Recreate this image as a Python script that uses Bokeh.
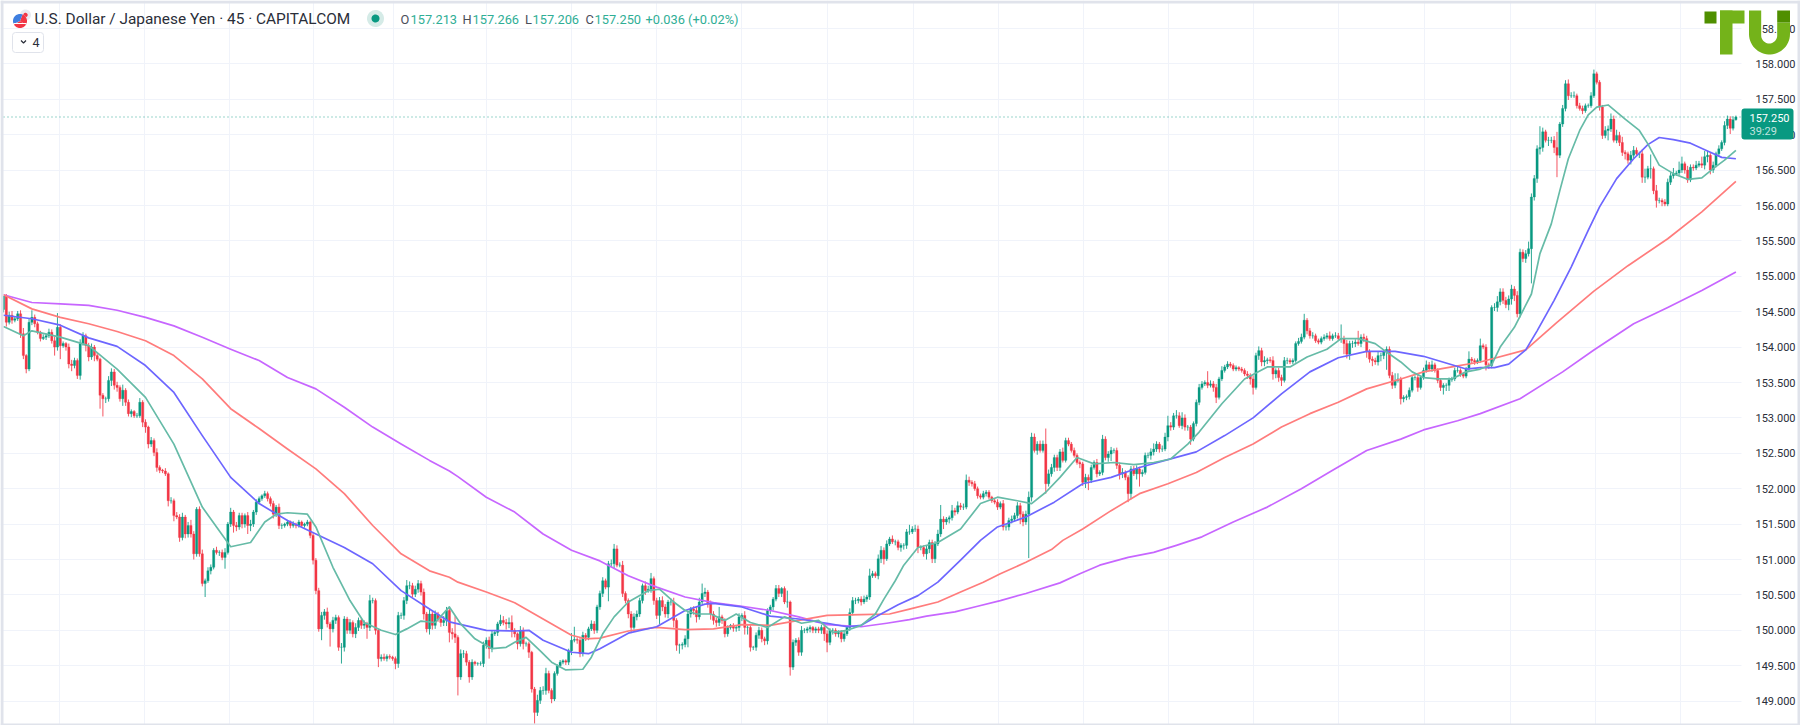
from bokeh.plotting import figure
from bokeh.models import (ColumnDataSource, FixedTicker, NumeralTickFormatter, Label,
                          BoxAnnotation, PolyAnnotation)
from bokeh.embed import file_html
from bokeh.resources import INLINE
import numpy as np

first_open = 154.53
closes = [
154.72,154.35,154.45,154.38,154.40,154.47,154.19,153.88,153.69,154.35,154.42,154.33,154.21,154.12,154.14,154.16,154.21,154.09,154.00,154.28,
154.02,154.05,154.00,153.76,153.74,153.81,153.60,154.05,154.16,154.02,153.86,154.00,153.88,153.83,153.32,153.27,153.27,153.53,153.65,153.46,
153.43,153.27,153.39,153.22,153.06,153.09,153.03,153.03,153.22,152.94,152.87,152.63,152.68,152.51,152.30,152.26,152.25,152.21,151.83,151.83,
151.62,151.60,151.31,151.60,151.36,151.48,151.36,151.08,151.71,151.08,150.66,150.70,150.84,150.89,151.13,151.10,151.10,151.03,151.10,151.50,
151.67,151.48,151.46,151.62,151.50,151.62,151.48,151.50,151.67,151.81,151.86,151.90,151.93,151.86,151.79,151.64,151.74,151.48,151.48,151.50,
151.53,151.48,151.50,151.48,151.53,151.48,151.50,151.53,151.34,150.99,150.56,150.02,150.21,150.26,150.09,150.02,150.14,150.18,149.76,149.76,
150.16,150.00,150.11,149.95,150.04,150.14,150.07,150.09,150.04,150.42,150.42,150.00,149.60,149.62,149.60,149.63,149.62,149.60,149.53,150.21,
150.21,150.42,150.63,150.63,150.51,150.58,150.66,150.54,150.23,150.02,150.23,150.07,150.23,150.16,150.11,150.14,150.28,149.97,149.95,149.90,
149.34,149.67,149.67,149.55,149.34,149.55,149.53,149.53,149.53,149.79,149.86,149.74,149.95,149.97,150.09,150.14,150.11,150.09,150.11,150.00,
149.95,149.81,150.00,149.81,149.81,149.69,149.17,148.84,149.01,149.15,149.15,149.39,149.15,149.03,149.39,149.50,149.55,149.57,149.55,149.71,
149.86,149.87,149.86,149.67,149.93,149.90,150.02,150.09,150.00,150.33,150.52,150.70,150.61,150.94,150.94,151.15,150.92,150.92,150.52,150.42,
150.23,150.04,150.19,150.23,150.42,150.63,150.56,150.58,150.73,150.42,150.21,150.42,150.33,150.23,150.40,150.40,150.14,149.79,149.79,149.80,
149.88,150.23,150.30,150.28,150.19,150.40,150.52,150.54,150.37,150.23,150.14,150.11,150.19,150.14,149.95,150.04,150.07,150.03,150.04,150.19,
150.21,150.04,150.04,149.76,149.76,149.93,150.00,149.88,149.85,150.28,150.33,150.44,150.59,150.52,150.59,150.40,150.40,149.48,149.83,149.86,
149.69,150.00,150.00,150.02,150.04,150.00,150.02,150.00,150.04,149.95,149.83,150.00,150.00,149.95,149.97,149.88,149.95,150.04,150.25,150.42,
150.42,150.44,150.40,150.44,150.47,150.77,150.80,150.77,151.01,151.13,151.01,151.22,151.29,151.25,151.25,151.17,151.20,151.20,151.39,151.39,
151.43,151.43,151.17,151.17,151.08,151.15,151.24,151.01,151.22,151.36,151.57,151.53,151.57,151.59,151.69,151.67,151.76,151.74,151.74,152.12,
152.09,152.07,152.00,151.90,151.88,151.93,151.95,151.88,151.83,151.81,151.74,151.79,151.46,151.46,151.55,151.57,151.62,151.76,151.64,151.53,
151.64,151.88,152.73,152.54,152.63,152.54,152.63,152.07,152.21,152.30,152.44,152.30,152.52,152.40,152.68,152.63,152.54,152.47,152.37,152.35,
152.09,152.16,152.12,152.30,152.37,152.21,152.23,152.70,152.44,152.49,152.54,152.54,152.33,152.21,152.23,152.16,151.93,152.28,152.21,152.28,
152.21,152.23,152.47,152.47,152.52,152.56,152.63,152.56,152.56,152.73,152.89,152.87,153.03,153.03,152.89,153.00,152.87,152.87,152.70,152.92,
153.22,153.43,153.48,153.50,153.46,153.48,153.43,153.29,153.55,153.67,153.72,153.76,153.74,153.69,153.71,153.69,153.67,153.62,153.60,153.55,
153.43,153.88,153.95,153.79,153.81,153.82,153.81,153.62,153.67,153.57,153.53,153.81,153.81,153.79,153.81,154.05,154.08,154.14,154.38,154.23,
154.16,154.16,154.09,154.07,154.12,154.14,154.16,154.12,154.16,154.16,154.12,154.12,154.05,153.90,154.05,154.05,154.07,154.05,154.14,154.12,
153.93,153.83,153.81,153.79,153.88,153.88,153.93,153.97,153.60,153.46,153.53,153.55,153.27,153.29,153.30,153.39,153.57,153.57,153.43,153.57,
153.67,153.75,153.69,153.75,153.67,153.53,153.43,153.46,153.46,153.54,153.55,153.67,153.67,153.62,153.59,153.69,153.83,153.81,153.79,153.81,
154.02,154.00,153.75,153.74,154.56,154.56,154.64,154.78,154.66,154.60,154.68,154.82,154.73,154.47,155.34,155.25,155.32,155.39,156.12,156.38,
156.80,156.82,157.04,156.92,156.92,156.92,156.82,156.71,157.15,157.37,157.72,157.55,157.55,157.55,157.41,157.37,157.34,157.41,157.41,157.55,
157.86,157.74,157.39,156.99,157.06,157.08,157.22,156.92,156.99,156.89,156.75,156.73,156.64,156.71,156.78,156.73,156.73,156.40,156.40,156.52,
156.52,156.21,156.07,156.07,156.05,156.02,156.33,156.42,156.45,156.46,156.50,156.59,156.50,156.36,156.54,156.53,156.57,156.59,156.57,156.69,
156.71,156.50,156.57,156.73,156.80,156.89,157.13,157.22,157.09,157.21,157.25]

upper_wicks = [
0,3,5,6,4,4,5,8,2,5,10,4,3,2,4,3,5,4,6,20,
4,3,2,5,6,4,3,6,5,3,4,5,3,4,2,3,3,6,5,4,
5,3,8,3,4,3,2,4,6,3,4,2,5,3,6,3,2,4,2,5,
3,5,4,6,3,5,8,4,3,4,6,3,5,4,3,5,3,4,6,3,
6,3,5,4,4,3,5,6,3,4,3,2,4,3,3,4,3,5,3,2,
3,2,4,2,3,2,2,3,2,3,3,4,5,4,6,3,5,4,3,6,
4,3,5,3,6,4,3,5,3,8,4,3,2,4,5,3,3,2,3,5,
4,5,8,6,4,5,5,4,5,3,6,4,5,3,3,6,5,4,6,25,
3,6,5,4,3,4,2,2,3,5,4,5,4,3,3,8,6,5,7,10,
3,2,6,4,3,3,2,3,8,5,6,8,4,3,3,2,3,2,2,3,
10,18,3,4,5,3,3,5,4,3,4,5,3,4,6,7,5,4,6,3,
3,4,5,5,4,3,6,5,8,3,4,5,6,4,3,5,6,3,2,3,
5,3,3,4,5,6,14,6,3,5,4,4,14,3,3,3,2,3,3,5,
3,6,3,3,2,4,5,4,3,3,3,3,5,5,2,3,16,2,4,3,
4,6,3,3,3,2,3,3,4,3,5,3,3,3,3,3,4,3,6,5,
4,3,4,5,3,10,4,3,6,6,4,5,3,5,3,3,3,3,4,10,
4,6,5,3,3,5,4,4,4,6,20,4,3,3,8,4,6,4,5,8,
5,3,4,3,3,4,3,3,2,3,4,3,5,4,4,5,4,5,4,4,
5,8,6,5,4,5,5,22,6,5,4,4,4,6,4,4,3,4,3,3,
3,5,4,4,3,5,3,6,4,4,5,3,4,4,6,3,3,4,4,5,
3,4,4,4,5,8,4,3,5,6,14,5,4,8,5,8,5,3,3,3,
4,5,4,3,16,5,4,5,3,6,3,4,3,3,3,2,3,3,4,3,
5,4,6,4,6,3,4,6,3,4,4,5,4,3,3,3,5,5,9,3,
4,5,3,3,3,4,4,6,3,5,4,20,4,5,4,4,4,16,4,5,
4,4,4,4,6,4,4,4,4,5,10,8,3,3,3,4,3,3,4,3,
4,6,4,6,3,3,2,3,3,3,3,4,7,3,3,3,11,3,3,3,
10,3,4,3,3,6,8,5,5,5,5,6,4,6,5,4,5,10,5,5,
5,30,6,3,5,5,6,22,3,5,5,6,5,6,3,4,4,3,3,5,
6,3,3,3,6,5,8,5,8,5,8,3,3,6,6,4,3,6,12,4,
20,3,8,4,3,4,5,5,8,3,12,10,3,6,4,4,6,4,10,8,
6,3,5,3,5,3,6,5,4,5,2]

lower_wicks = [
4,6,3,5,3,3,6,5,6,3,4,5,3,4,2,4,3,4,12,5,
19,3,5,6,8,4,5,6,3,8,6,4,8,3,19,25,6,4,8,6,
6,4,10,5,4,5,3,3,3,7,8,6,4,5,6,4,3,3,8,4,
8,3,6,4,6,5,5,8,4,4,4,19,3,5,3,3,5,4,16,3,
4,10,6,4,6,5,12,8,4,4,3,3,3,4,4,6,4,5,5,3,
3,4,3,4,3,2,3,3,4,6,5,4,16,6,5,25,5,5,5,23,
6,5,5,5,6,5,5,5,16,5,4,6,12,4,3,4,3,3,8,6,
5,6,5,5,4,4,5,5,8,5,8,6,5,4,6,5,8,14,8,8,
26,4,6,5,8,4,3,3,3,5,5,14,5,3,5,3,4,8,6,10,
5,8,4,8,4,8,5,16,5,5,6,6,4,6,3,3,3,3,4,4,
6,3,5,5,4,5,4,3,5,4,4,5,3,20,5,6,3,3,5,4,
6,8,3,5,4,4,6,3,5,6,5,12,6,5,6,5,10,8,12,6,
4,12,5,6,8,4,3,5,5,8,6,6,5,5,5,4,3,5,5,5,
6,10,10,6,4,5,5,5,6,5,5,5,3,5,5,3,8,12,4,5,
5,5,4,4,5,4,4,4,5,10,14,4,6,4,5,5,4,3,5,4,
5,4,5,3,4,4,3,3,5,6,8,3,3,3,5,4,6,6,5,4,
3,4,8,4,4,8,6,6,6,3,4,10,4,6,4,5,3,4,4,3,
5,4,3,4,3,3,4,3,3,3,4,3,5,5,5,4,3,4,14,6,
4,62,6,3,6,3,3,14,4,4,6,5,5,3,3,3,3,3,3,6,
5,8,14,4,3,5,3,4,4,6,10,4,5,8,6,4,12,8,3,8,
18,4,3,4,6,5,4,5,4,3,6,5,4,4,3,5,5,5,8,3,
4,4,3,3,4,3,6,8,3,3,3,3,3,3,3,3,3,3,5,8,
10,3,6,6,6,5,3,8,6,6,8,3,5,3,3,3,3,3,3,5,
4,4,3,3,3,3,3,3,3,3,3,6,15,6,8,6,5,3,5,5,
8,5,8,4,5,8,5,25,4,5,4,3,8,5,4,4,3,4,6,3,
3,3,3,4,3,4,5,10,8,8,3,3,3,4,3,3,3,4,4,3,
3,3,8,5,4,5,6,5,5,5,8,8,8,5,5,5,6,4,49,5,
6,8,6,3,8,4,8,31,4,4,4,6,3,3,4,3,5,3,3,3,
3,3,5,5,4,14,4,3,4,5,5,8,5,6,4,3,6,8,8,3,
14,5,10,4,6,3,3,4,4,3,3,4,5,4,3,4,3,3,4,6,
8,6,4,3,3,3,4,5,8,3,1]

ma_fast_idx = [0,7,10,20,30,40,50,60,70,80,87,92,96,100,107,110,116,122,127,133,138,142,147,152,157,161,166,172,177,180,184,189,193,198,204,207,211,215,220,227,231,236,240,244,249,254,258,263,269,275,281,287,292,297,302,307,310,314,317,322,329,337,344,350,357,362,367,372,378,384,391,398,405,411,417,421,429,437,445,453,459,466,471,477,483,487,492,496,500,505,510,515,520,524,527,532,538,541,545,548,551,555,558,561,565,571,576,579,583,588,593,598,602,606,610]
ma_fast_val = [154.29,154.16,154.23,154.14,154.02,153.69,153.29,152.63,151.74,151.18,151.24,151.53,151.64,151.66,151.64,151.46,150.89,150.42,150.11,150.00,149.94,150.02,150.13,150.11,150.33,150.09,149.88,149.74,149.76,149.83,149.90,149.71,149.55,149.44,149.45,149.62,149.95,150.19,150.40,150.56,150.58,150.40,150.28,150.23,150.23,150.14,150.23,150.11,150.04,150.19,150.10,150.14,149.97,150.00,150.07,150.23,150.44,150.70,150.92,151.17,151.24,151.43,151.79,151.88,151.83,151.79,151.95,152.16,152.44,152.35,152.37,152.34,152.37,152.42,152.63,152.80,153.20,153.55,153.72,153.72,153.86,153.97,154.12,154.12,154.05,153.93,153.79,153.65,153.57,153.55,153.55,153.65,153.69,153.75,154.00,154.28,154.75,155.32,155.74,156.21,156.66,157.06,157.28,157.39,157.42,157.22,157.06,156.87,156.57,156.45,156.37,156.39,156.52,156.64,156.78]

ma_mid_idx = [0,10,20,30,40,50,60,70,80,90,100,110,120,130,140,150,157,170,180,185,190,200,206,210,220,230,240,247,250,260,270,280,290,297,302,308,315,322,329,337,344,350,360,370,380,390,400,410,420,430,440,450,460,470,480,490,500,510,515,520,525,530,536,540,546,552,558,562,568,574,579,583,588,594,600,605,610]
ma_mid_val = [154.45,154.40,154.31,154.13,154.01,153.74,153.36,152.75,152.16,151.79,151.55,151.36,151.17,150.94,150.56,150.30,150.12,150.00,149.99,150.00,149.86,149.69,149.67,149.74,149.96,150.05,150.28,150.37,150.38,150.33,150.20,150.16,150.10,150.05,150.07,150.21,150.36,150.49,150.68,150.99,151.27,151.46,151.60,151.81,152.07,152.16,152.30,152.41,152.52,152.75,153.00,153.34,153.65,153.85,153.94,153.94,153.87,153.75,153.69,153.71,153.71,153.76,153.96,154.23,154.66,155.13,155.65,155.98,156.38,156.66,156.86,156.96,156.93,156.88,156.77,156.68,156.66]

ma_slow_idx = [0,10,20,30,40,50,60,70,80,90,100,110,120,130,140,150,157,160,170,180,190,200,205,210,220,230,240,250,260,270,280,290,302,312,319,329,337,345,351,360,369,373,380,390,400,410,420,430,440,450,460,470,480,492,500,510,520,536,547,560,572,586,598,610]
ma_slow_val = [154.74,154.54,154.42,154.33,154.22,154.09,153.88,153.55,153.13,152.85,152.56,152.28,151.93,151.48,151.08,150.84,150.75,150.68,150.54,150.39,150.16,149.93,149.88,149.89,149.99,150.04,150.01,150.02,150.08,150.07,150.14,150.21,150.22,150.23,150.30,150.40,150.54,150.68,150.80,150.96,151.14,151.27,151.43,151.69,151.93,152.07,152.23,152.44,152.63,152.87,153.06,153.22,153.41,153.55,153.65,153.72,153.79,153.96,154.35,154.79,155.15,155.53,155.91,156.34]

ma_long_idx = [0,10,20,30,40,50,60,70,80,90,100,110,120,130,140,150,157,160,170,180,190,200,210,220,230,240,250,260,270,280,290,302,311,319,325,335,343,351,360,372,379,386,396,405,413,422,433,445,457,468,480,492,500,512,520,534,549,560,574,586,598,610]
ma_long_val = [154.74,154.63,154.61,154.59,154.52,154.42,154.30,154.14,153.97,153.81,153.57,153.41,153.15,152.87,152.63,152.40,152.25,152.17,151.88,151.67,151.36,151.13,150.98,150.77,150.61,150.47,150.39,150.34,150.28,150.19,150.08,150.05,150.10,150.15,150.20,150.26,150.34,150.42,150.52,150.67,150.80,150.92,151.03,151.10,151.20,151.32,151.53,151.74,152.00,152.26,152.54,152.70,152.83,152.96,153.06,153.27,153.65,153.96,154.33,154.56,154.80,155.06]

price_ticks = [149.0,149.5,150.0,150.5,151.0,151.5,152.0,152.5,153.0,153.5,154.0,154.5,155.0,155.5,156.0,156.5,157.0,157.5,158.0,158.5]
grid_positions = [19.7,49.6,79.6,109.2,137.3,170.1,200,229.9,259.9,290.2,320.4,350.4,380.3,410.2,440.1,470,500.3,530.7,560.6,590.5]
last_price = 157.25
title_text = "U.S. Dollar / Japanese Yen \u00b7 45 \u00b7 CAPITALCOM"
ohlc_texts = [("O","157.213"),("H","157.266"),("L","157.206"),("C","157.250")]
change_text = "+0.036 (+0.02%)"
countdown = "39:29"

UP = "#089981"
DOWN = "#F23645"
FONT = "Roboto"
FRAME = "#e0e3eb"

def X(px): return (px - 3) / 2.84
def Y(py): return 158 - (py - 63.4) / 70.8

c = np.array(closes)
o = np.concatenate([[first_open], c[:-1]])
top = np.maximum(o, c) + np.array(upper_wicks) / 100
bot = np.minimum(o, c) - np.array(lower_wicks) / 100
idx = np.arange(len(c))
src = ColumnDataSource(dict(i=idx, o=o, c=c, h=top, l=bot,
                            col=[UP if a >= b else DOWN for a, b in zip(c, o)]))

p = figure(width=1800, height=725, output_backend="svg", toolbar_location=None,
           x_range=(X(0), X(1800)), y_range=(Y(725), Y(0)),
           x_axis_location=None, y_axis_location="right",
           min_border_left=0, min_border_right=0, min_border_top=0, min_border_bottom=0,
           background_fill_color="white", border_fill_color="white")
p.outline_line_color = None
p.xgrid[0].ticker = FixedTicker(ticks=grid_positions)
p.ygrid[0].ticker = FixedTicker(ticks=price_ticks)
for g in (p.xgrid[0], p.ygrid[0]):
    g.grid_line_color = "#f0f3fa"
    g.grid_line_width = 1

def box(l, t, r, b, color, radius=0, line=None, level="annotation"):
    p.add_layout(BoxAnnotation(left=X(l), right=X(r), top=Y(t), bottom=Y(b), fill_color=color,
                               fill_alpha=1, line_color=line or color, line_alpha=1 if line else 0,
                               line_width=1, border_radius=radius, level=level))

# price scale gutter hides the grid, as on the original
box(1741, 0, 1800, 725, "#ffffff", level="underlay")

ax = p.yaxis[0]
ax.fixed_location = X(1741)
ax.ticker = FixedTicker(ticks=price_ticks)
ax.formatter = NumeralTickFormatter(format="0.000")
ax.axis_line_color = None
ax.major_tick_line_color = None
ax.minor_tick_line_color = None
ax.major_label_standoff = 8
ax.major_label_text_font = FONT
ax.major_label_text_font_size = "11px"
ax.major_label_text_color = "#2a2e39"

p.line([X(3), X(1741)], [last_price, last_price], line_color=UP, line_width=1,
       line_dash=[1, 3], line_alpha=0.8)

p.segment("i", "l", "i", "h", source=src, line_color="col", line_width=1, line_alpha=0.85)
p.vbar(x="i", top="o", bottom="c", width=0.8, source=src, fill_color="col", line_color="col", line_width=0.3)

for xs_, ys_, col_ in [(ma_long_idx, ma_long_val, "#c766ff"), (ma_slow_idx, ma_slow_val, "#ff7c7c"),
                       (ma_mid_idx, ma_mid_val, "#6d66ff"), (ma_fast_idx, ma_fast_val, "#66bba7")]:
    p.line(xs_, ys_, line_color=col_, line_width=1.7, line_join="round")

def label(px, py, text, color="#131722", size="14px", align="left", alpha=1.0):
    p.add_layout(Label(x=X(px), y=Y(py), text=text, text_color=color, text_font=FONT,
                       text_font_size=size, text_baseline="middle", text_align=align,
                       text_alpha=alpha))

def disc(cx, cy, r, a0=0, a1=2*np.pi, n=40):
    t = np.linspace(a0, a1, n)
    xs = cx + r*np.cos(t); ys = cy - r*np.sin(t)
    if a1 - a0 < 2*np.pi:
        xs = np.r_[cx, xs]; ys = np.r_[cy, ys]
    return X(xs), Y(ys)

# outer page frame around the chart card
box(0, 0, 3, 725, FRAME)
box(0, 0, 1800, 3, FRAME)
box(1797, 0, 1800, 725, FRAME)
box(0, 723, 1800, 725, FRAME)

# flag badges
xs, ys = disc(25, 14.5, 5.5); p.patch(xs, ys, fill_color="#e9ebf1", line_color=None)
xs, ys = disc(25, 14.5, 2.2); p.patch(xs, ys, fill_color="#f23645", line_color=None)
xs, ys = disc(19.5, 20.5, 7); p.patch(xs, ys, fill_color="#ffffff", line_color=None)
xs, ys = disc(19.5, 20.5, 7, -0.55, 1.2); p.patch(xs, ys, fill_color="#f23645", line_color=None)
xs, ys = disc(19.5, 20.5, 7, -2.6, -0.55); p.patch(xs, ys, fill_color="#f23645", line_color=None)
xs, ys = disc(19.5, 20.5, 7, 1.2, 3.6); p.patch(xs, ys, fill_color="#3f7fe0", line_color=None)
p.segment(X(13), Y(23), X(26), Y(23), line_color="white", line_width=1.2)

label(34, 18.5, title_text, size="15.4px", color="#2a2e39")

# live status dot
xs, ys = disc(375, 18, 8.5); p.patch(xs, ys, fill_color="#d5ebe7", line_color=None)
xs, ys = disc(375, 18, 4); p.patch(xs, ys, fill_color=UP, line_color=None)

# OHLC readout
for (letter, value), lx, vx in zip(ohlc_texts, [400, 462, 524.5, 585], [410, 472, 532, 594]):
    label(lx, 18.5, letter, size="12.8px", color="#4a4e59")
    label(vx, 18.5, value, size="12.8px", color="#2fae96")
label(645, 18.5, change_text, size="12.8px", color="#2fae96")

# collapsed indicator button
box(12, 32, 43, 52, "#ffffff", radius=3, line="#e0e3eb")
p.line(X(np.array([20.5, 23, 25.5])), Y(np.array([40, 42.5, 40])), line_color="#2a2e39",
       line_width=1.2, level="overlay")
label(32, 42, "4", size="12.5px", color="#2a2e39")

# last price badge
box(1741, 108, 1793, 139, UP, radius=3)
label(1749, 117, "157.250", color="#ffffff", size="11px")
label(1749, 131, countdown, color="#ffffff", size="11px", alpha=0.75)

# watermark logo
LIGHT = "#74b31a"; DARK = "#4f8f00"
box(1704, 11, 1716, 23, DARK)
box(1719.5, 10, 1744, 23, LIGHT)
box(1719.5, 10, 1732, 54, LIGHT)
t = np.linspace(np.pi, 2*np.pi, 30)
ux = np.r_[1748.5, 1748.5 + 20.5 + 20.5*np.cos(t), 1789.5, 1776.7, 1768.7 - 8*np.cos(t), 1760.7]
uy = np.r_[10, 33.5 - 20.5*np.sin(t), 22, 22, 35 - 8*np.sin(t), 10]
p.add_layout(PolyAnnotation(xs=list(X(ux)), ys=list(Y(uy)), fill_color=LIGHT, fill_alpha=1, line_alpha=0))
box(1776.7, 10, 1789.5, 22, DARK)

open("out.html", "w").write(file_html(p, INLINE))
